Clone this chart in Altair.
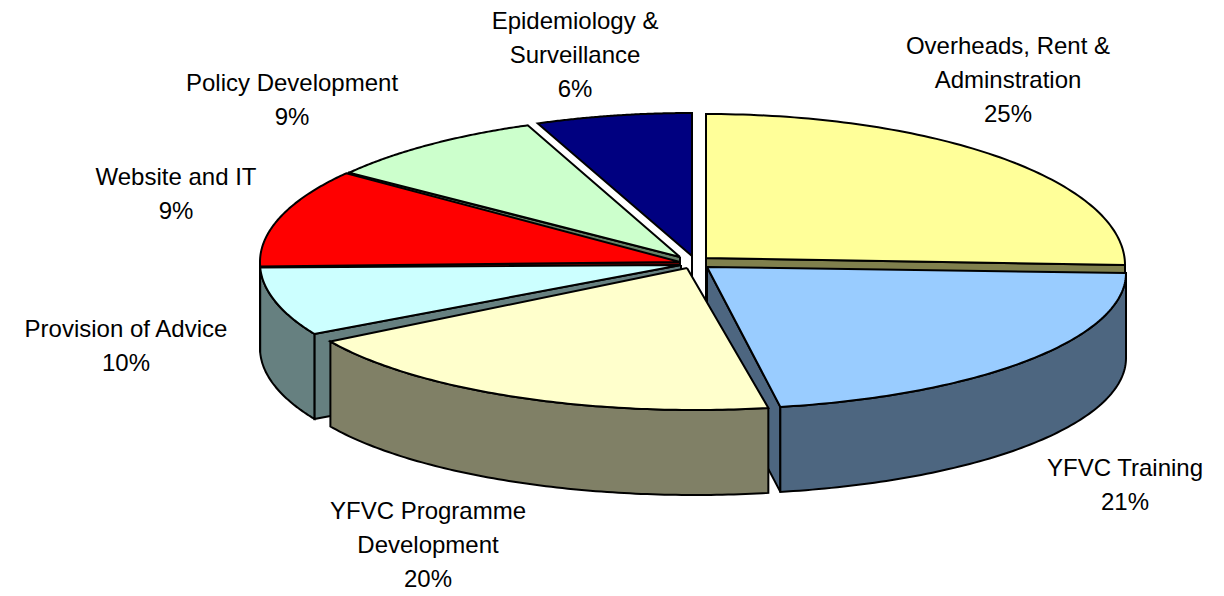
import numpy as np
import pandas as pd
import altair as alt

# ---- data ----
names = ["Overheads, Rent & Adminstration", "YFVC Training", "YFVC Programme Development",
         "Provision of Advice", "Website and IT", "Policy Development", "Epidemiology & Surveillance"]
percent_labels = [25, 21, 20, 10, 9, 9, 6]
# share of the rim each slice takes up in the tilted drawing
rim_shares = [25.0, 22.2, 19.6, 7.7, 10.9, 8.6, 6.0]
top_colors = ["#FFFF99", "#99CCFF", "#FFFFCC", "#CCFFFF", "#FF0000", "#CCFFCC", "#000080"]
side_colors = ["#80804D", "#4D6680", "#808066", "#668080", "#800000", "#668066", "#000040"]

label_lines = [
    ["Overheads, Rent &", "Adminstration", "25%"],
    ["YFVC Training", "21%"],
    ["YFVC Programme", "Development", "20%"],
    ["Provision of Advice", "10%"],
    ["Website and IT", "9%"],
    ["Policy Development", "9%"],
    ["Epidemiology &", "Surveillance", "6%"],
]
label_x = [1008, 1125, 428, 126, 176, 292, 575]
label_y = [47, 469, 512, 330, 178, 84, 22]
LINE_H = 34

# ---- layout of the tilted pie, per slice ----
apex = [(706, 258), (707, 267), (687, 268), (681, 265), (680, 262), (680, 257), (692, 256)]
centre = [(706, 265), (707, 273), (695, 275), (679, 263), (679, 262), (682, 262), (692, 262)]
RX = 419
RY_BACK = [151, 151, 151, 148, 146, 147, 149]
RY_FRONT = [136, 136, 135, 144, 144, 144, 144]
DEPTH = 85
PAINT = [6, 5, 4, 0, 3, 1, 2]  # back to front

edges = np.radians(np.concatenate([[0], np.cumsum(rim_shares)]) * 3.6)


def rim(i, t):
    c = np.cos(t)
    ry = np.where(c >= 0, RY_BACK[i], RY_FRONT[i])
    return centre[i][0] + RX * np.sin(t), centre[i][1] - ry * c


def polygon(xs, ys, color):
    xs, ys = list(xs), list(ys)
    xs.append(xs[0])
    ys.append(ys[0])
    df = pd.DataFrame({"x": xs, "y": ys, "o": range(len(xs))})
    return alt.Chart(df).mark_line(fill=color, stroke="black", strokeWidth=2, strokeJoin="miter",
                                   fillOpacity=1, interpolate="linear").encode(
        x=alt.X("x:Q", scale=X_SCALE, axis=None),
        y=alt.Y("y:Q", scale=Y_SCALE, axis=None),
        order=alt.Order("o:Q"),
    )


X_SCALE = alt.Scale(domain=[8, 1216], range=[0, 1208], nice=False, zero=False)
Y_SCALE = alt.Scale(domain=[588, 8], range=[580, 0], nice=False, zero=False)

layers = []
for i in PAINT:
    t0, t1 = edges[i], edges[i + 1]
    t = np.linspace(t0, t1, 90)
    rx, ry = rim(i, t)
    ax, ay = apex[i]
    # cut faces
    x0, y0 = float(rx[0]), float(ry[0])
    x1, y1 = float(rx[-1]), float(ry[-1])
    if np.sin(t0) > 0.0 or i == 0:  # leading cut face looks left/down on the right half
        pass
    if i == 0:
        layers.append(polygon([ax, x1, x1, ax], [ay, y1, y1 + DEPTH, ay + DEPTH], side_colors[i]))
    if i == 1:
        layers.append(polygon([ax, x1, x1, ax], [ay, y1, y1 + DEPTH, ay + DEPTH], side_colors[i]))
    if i in (3, 4, 5):
        layers.append(polygon([ax, x0, x0, ax], [ay, y0, y0 + DEPTH, ay + DEPTH], side_colors[i]))
    if i == 6:
        layers.append(polygon([ax, x1, x1, ax], [ay, y1, y1 + DEPTH, ay + DEPTH], side_colors[i]))
    if i in (3, 4, 5):
        pass
    # outer wall: only the part of the rim facing the viewer
    tw = np.linspace(max(t0, np.pi / 2), min(t1, 3 * np.pi / 2), 90)
    if tw[-1] > tw[0]:
        wx, wy = rim(i, tw)
        layers.append(polygon(np.r_[wx, wx[::-1]], np.r_[wy, wy[::-1] + DEPTH], side_colors[i]))
    # top
    layers.append(polygon(np.r_[ax, rx], np.r_[ay, ry], top_colors[i]))

rows = []
for lines, lx, ly in zip(label_lines, label_x, label_y):
    for k, line in enumerate(lines):
        rows.append({"x": lx, "y": ly + k * LINE_H, "text": line})
text = alt.Chart(pd.DataFrame(rows)).mark_text(
    font="Liberation Sans", fontSize=24, color="black", align="center", baseline="middle"
).encode(
    x=alt.X("x:Q", scale=X_SCALE, axis=None),
    y=alt.Y("y:Q", scale=Y_SCALE, axis=None),
    text="text:N",
)

chart = alt.layer(*layers, text).properties(
    width=1208, height=580, padding=0, autosize=alt.AutoSizeParams(type="none")
).configure_view(stroke=None)
chart.save("out.html", embed_options={"renderer": "svg", "actions": False})
